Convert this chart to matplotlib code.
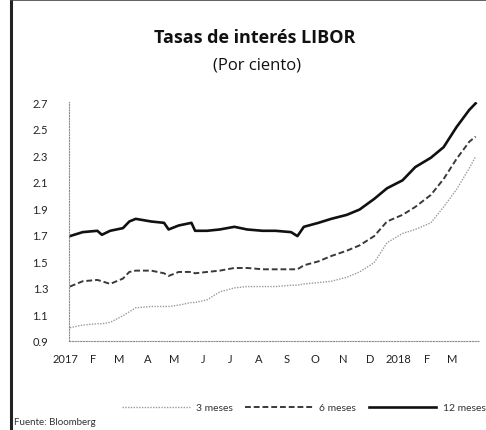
import matplotlib
matplotlib.use("Agg")
import matplotlib.pyplot as plt
import matplotlib.dates as mdates
import matplotlib.transforms as mtrans
from matplotlib.lines import Line2D
import numpy as np
import pandas as pd

plt.rcParams['font.family'] = ['Lato', 'DejaVu Sans']

dates = ["2017-01-02", "2017-01-16", "2017-02-01", "2017-02-06", "2017-02-15",
         "2017-03-01", "2017-03-08", "2017-03-15", "2017-04-01", "2017-04-15",
         "2017-04-20", "2017-05-01", "2017-05-15", "2017-05-19", "2017-06-01",
         "2017-06-15", "2017-07-01", "2017-07-15", "2017-08-01", "2017-08-15",
         "2017-09-01", "2017-09-08", "2017-09-15", "2017-10-01", "2017-10-15",
         "2017-11-01", "2017-11-15", "2017-12-01", "2017-12-15", "2018-01-01",
         "2018-01-15", "2018-02-01", "2018-02-15", "2018-03-01", "2018-03-15",
         "2018-03-22"]

libor_3m = [1.00, 1.02, 1.03, 1.03, 1.04, 1.09, 1.12, 1.15, 1.16, 1.16,
            1.16, 1.17, 1.19, 1.19, 1.21, 1.27, 1.30, 1.31, 1.31, 1.31,
            1.32, 1.32, 1.33, 1.34, 1.35, 1.38, 1.42, 1.49, 1.64, 1.71,
            1.74, 1.79, 1.91, 2.04, 2.20, 2.29]

libor_6m = [1.31, 1.35, 1.36, 1.35, 1.33, 1.37, 1.42, 1.43, 1.43, 1.41,
            1.39, 1.42, 1.42, 1.41, 1.42, 1.43, 1.45, 1.45, 1.44, 1.44,
            1.44, 1.44, 1.47, 1.50, 1.54, 1.58, 1.62, 1.69, 1.80, 1.85,
            1.91, 2.00, 2.12, 2.27, 2.40, 2.44]

libor_12m = [1.69, 1.72, 1.73, 1.70, 1.73, 1.75, 1.80, 1.82, 1.80, 1.79,
             1.74, 1.77, 1.79, 1.73, 1.73, 1.74, 1.76, 1.74, 1.73, 1.73,
             1.72, 1.69, 1.76, 1.79, 1.82, 1.85, 1.89, 1.97, 2.05, 2.11,
             2.21, 2.28, 2.36, 2.51, 2.64, 2.69]

month_labels = ["2017", "F", "M", "A", "M", "J", "J", "A", "S", "O", "N", "D",
                "2018", "F", "M"]
y_ticks = [0.9, 1.1, 1.3, 1.5, 1.7, 1.9, 2.1, 2.3, 2.5, 2.7]

x = pd.to_datetime(dates)

fig = plt.figure(figsize=(4.86, 4.31), dpi=100)
ax = fig.add_axes([0.142, 0.2065, 0.846, 0.5545])

ax.plot(x, libor_3m, color="#9a9a9a", lw=1.0, ls=(0, (1, 1)), label="3 meses")
ax.plot(x, libor_6m, color="#3a3a3a", lw=1.4, ls=(0, (3, 1.5)), label="6 meses")
ax.plot(x, libor_12m, color="#111111", lw=1.9, ls="-", label="12 meses")

ax.set_ylim(0.9, 2.7)
ax.set_yticks(y_ticks)
ax.set_yticklabels([f"{v:.1f}" for v in y_ticks])
ax.set_xlim(pd.Timestamp("2017-01-01"), pd.Timestamp("2018-03-27"))
ticks = pd.date_range("2017-01-01", periods=len(month_labels), freq="MS")
ax.set_xticks(ticks)
ax.set_xticklabels(month_labels)

for s in ["top", "right"]:
    ax.spines[s].set_visible(False)
for s in ["left", "bottom"]:
    ax.spines[s].set_color("#8c8c8c")
    ax.spines[s].set_linewidth(0.8)
    ax.spines[s].set_linestyle((0, (1, 1.5)))
ax.tick_params(axis="both", length=0, labelsize=8, colors="#222222")
ax.tick_params(axis="y", pad=15)
ax.tick_params(axis="x", pad=9)
off = mtrans.ScaledTranslation(-4 / 100, 0, fig.dpi_scale_trans)
for lab in ax.get_xticklabels():
    lab.set_transform(lab.get_transform() + off)

fig.text(0.525, 0.912, "Tasas de interés LIBOR", ha="center", va="center",
         fontsize=13, fontweight="bold", color="#111111",
         family=["Open Sans", "DejaVu Sans"])
fig.text(0.528, 0.847, "(Por ciento)", ha="center", va="center",
         fontsize=12, color="#111111", family=["Open Sans", "DejaVu Sans"])

leg = fig.legend(loc="center", ncol=3, frameon=False, fontsize=7.5,
                 handlelength=6.5, columnspacing=1.2, handletextpad=0.6)
leg.set_bbox_to_anchor((0.625, 0.052), transform=fig.transFigure)
for t in leg.get_texts():
    t.set_color("#333333")

fig.text(0.028, 0.019, "Fuente: Bloomberg", ha="left", va="center",
         fontsize=7, color="#333333")

fig.add_artist(Line2D([0.023, 0.023], [0, 1], transform=fig.transFigure,
                      color="#222222", lw=2.2))
fig.add_artist(Line2D([0.023, 1], [0.997, 0.997], transform=fig.transFigure,
                      color="#444444", lw=1.2))

fig.savefig("out.png", dpi=100)
